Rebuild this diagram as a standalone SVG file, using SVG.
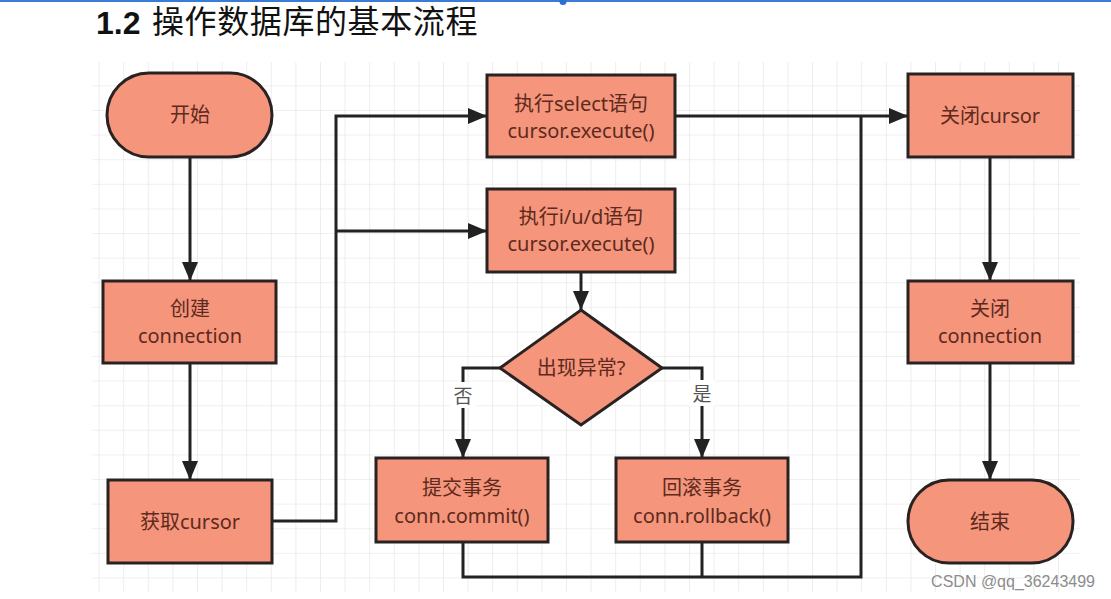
<svg xmlns="http://www.w3.org/2000/svg" width="1111" height="599" viewBox="0 0 1111 599">
<defs>
<pattern id="grid" patternUnits="userSpaceOnUse" x="98.6" y="60.8" width="24.6" height="24.6">
<path d="M0,0 V24.6 M0,0 H24.6" fill="none" stroke="#e2e2e2" stroke-width="1.2"/>
</pattern>
<marker id="arr" markerUnits="userSpaceOnUse" markerWidth="20" markerHeight="18" refX="19" refY="8" orient="auto">
<path d="M0,0 L19,8 L0,16 Z" fill="#222"/>
</marker>
<style>
.node{fill:#f4957c;stroke:#2a2222;stroke-width:3}
.t{font-family:"Noto Sans","Noto Sans CJK SC",sans-serif;font-size:20px;fill:#5e2a1d;text-anchor:middle;dominant-baseline:central}
.c{fill:none;stroke:#222;stroke-width:3}
.a{marker-end:url(#arr)}
.lbl{font-family:"Noto Sans CJK SC",sans-serif;font-size:19px;fill:#555;text-anchor:middle;dominant-baseline:central}
.ttl{font-family:"Noto Sans CJK SC",sans-serif;font-size:32px;fill:#111}
</style>
</defs>
<rect width="1111" height="599" fill="#ffffff"/>
<rect x="0" y="0" width="1111" height="2" fill="#3a7bd5"/>
<circle cx="563" cy="1.5" r="3.5" fill="#2d6fd0"/>
<rect x="92" y="62" width="988" height="530" fill="url(#grid)"/>

<g id="title">
<text x="96" y="34" font-family="Liberation Sans, Arial, sans-serif" font-weight="bold" font-size="32" fill="#111">1.2</text>
<text class="ttl" x="152" y="33" letter-spacing="0.6">操作数据库的基本流程</text>
</g>

<g id="connectors">
<path class="c a" d="M190,157 V281"/>
<path class="c a" d="M190,363 V480"/>
<path class="c a" d="M272,521 H336 V116 H487"/>
<path class="c a" d="M336,231 H487"/>
<path class="c a" d="M581,272 V310"/>
<path class="c a" d="M500,368 H463 V458"/>
<path class="c a" d="M662,368 H702 V458"/>
<path class="c" d="M463,542 V577 H861 V116"/>
<path class="c" d="M702,542 V577"/>
<path class="c a" d="M675,116 H908"/>
<path class="c a" d="M990,157 V281"/>
<path class="c a" d="M990,363 V480"/>
<rect x="450" y="382" width="26" height="26" fill="#ffffff"/>
<text class="lbl" x="463" y="394">否</text>
<rect x="689" y="380" width="26" height="26" fill="#ffffff"/>
<text class="lbl" x="702" y="392">是</text>
</g>

<g id="start">
<rect class="node" x="107" y="73" width="165" height="84" rx="42"/>
<text class="t" x="190" y="114">开始</text>
</g>
<g id="create-connection">
<rect class="node" x="103" y="281" width="173" height="82"/>
<text class="t" x="190" y="308">创建</text>
<text class="t" x="190" y="335">connection</text>
</g>
<g id="get-cursor">
<rect class="node" x="108" y="480" width="164" height="83"/>
<text class="t" x="190" y="521">获取cursor</text>
</g>
<g id="exec-select">
<rect class="node" x="487" y="75" width="188" height="82"/>
<text class="t" x="581" y="103">执行select语句</text>
<text class="t" x="581" y="130">cursor.execute()</text>
</g>
<g id="exec-iud">
<rect class="node" x="487" y="189" width="188" height="83"/>
<text class="t" x="581" y="216">执行i/u/d语句</text>
<text class="t" x="581" y="243">cursor.execute()</text>
</g>
<g id="exception">
<polygon class="node" points="581,310 662,368 581,425 500,368"/>
<text class="t" x="581" y="367">出现异常?</text>
</g>
<g id="commit">
<rect class="node" x="376" y="458" width="172" height="84"/>
<text class="t" x="462" y="487">提交事务</text>
<text class="t" x="462" y="515">conn.commit()</text>
</g>
<g id="rollback">
<rect class="node" x="616" y="458" width="172" height="84"/>
<text class="t" x="702" y="487">回滚事务</text>
<text class="t" x="702" y="515">conn.rollback()</text>
</g>
<g id="close-cursor">
<rect class="node" x="908" y="74" width="165" height="83"/>
<text class="t" x="990" y="115">关闭cursor</text>
</g>
<g id="close-connection">
<rect class="node" x="908" y="281" width="165" height="82"/>
<text class="t" x="990" y="308">关闭</text>
<text class="t" x="990" y="335">connection</text>
</g>
<g id="end">
<rect class="node" x="908" y="480" width="165" height="83" rx="41"/>
<text class="t" x="990" y="521">结束</text>
</g>

<text x="1095" y="587" text-anchor="end" font-family="Liberation Sans, Arial, sans-serif" font-size="16" fill="#8c8c8c">CSDN @qq_36243499</text>
</svg>
